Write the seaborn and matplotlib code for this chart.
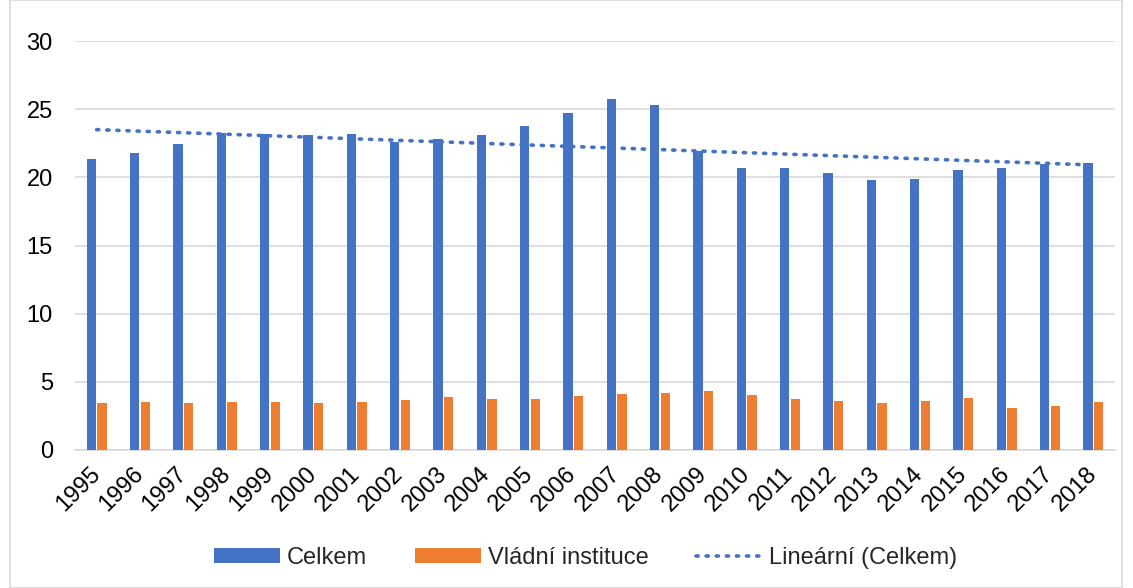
import numpy as np
import pandas as pd
import matplotlib
matplotlib.use("Agg")
import matplotlib.pyplot as plt
import seaborn as sns
from matplotlib.patches import Rectangle
from matplotlib.lines import Line2D
from matplotlib.patches import Patch

years = [str(y) for y in range(1995, 2019)]
celkem = [21.35, 21.78, 22.42, 23.27, 23.16, 23.10, 23.20, 22.57, 22.84, 23.13,
          23.74, 24.74, 25.72, 25.30, 21.95, 20.66, 20.66, 20.32, 19.80, 19.86,
          20.54, 20.66, 21.00, 21.07]
vladni = [3.45, 3.50, 3.47, 3.52, 3.50, 3.47, 3.50, 3.67, 3.89, 3.72,
          3.74, 3.97, 4.11, 4.19, 4.31, 4.06, 3.74, 3.57, 3.47, 3.62,
          3.84, 3.08, 3.20, 3.50]
series_names = ["Celkem", "Vládní instituce"]
trend_name = "Lineární (Celkem)"

BLUE = "#4472C4"
ORANGE = "#ED7D31"
FS = 17

sns.set_theme(style="white")
plt.rcParams["font.family"] = ["Liberation Sans", "DejaVu Sans"]

df = pd.DataFrame({
    "rok": years * 2,
    "hodnota": celkem + vladni,
    "ukazatel": [series_names[0]] * len(years) + [series_names[1]] * len(years),
})

fig = plt.figure(figsize=(11.33, 5.88), dpi=100)
ax = fig.add_axes([75 / 1133, 1 - 450 / 588, 1040 / 1133, 409 / 588])

sns.barplot(data=df, x="rok", y="hodnota", hue="ukazatel",
            palette=[BLUE, ORANGE], saturation=1, width=0.5, gap=0.15,
            edgecolor="none", ax=ax, legend=False, zorder=3)

# linear trend of the total
xs = np.arange(len(years))
k, q = np.polyfit(xs, celkem, 1)
ax.plot(xs, k * xs + q, color=BLUE, linewidth=2.6,
        linestyle=(0, (0.6, 2.2)), dash_capstyle="round", zorder=4)

ax.set_ylim(0, 30)
ax.set_yticks(range(0, 31, 5))
ax.set_xlim(-0.5, len(years) - 0.5)
ax.yaxis.grid(True, color="#d9d9d9", linewidth=1.2, zorder=0)
ax.set_axisbelow(True)
for s in ["top", "right", "left"]:
    ax.spines[s].set_visible(False)
ax.spines["bottom"].set_color("#d9d9d9")
ax.spines["bottom"].set_linewidth(1.2)
ax.set_xlabel("")
ax.set_ylabel("")
ax.tick_params(axis="y", length=0, labelsize=FS, pad=16, colors="black")
ax.tick_params(axis="x", length=0, labelsize=FS, pad=15, colors="black")
plt.setp(ax.get_xticklabels(), rotation=45, ha="right", va="center",
         rotation_mode="anchor")

handles = [
    Patch(facecolor=BLUE, edgecolor="none"),
    Patch(facecolor=ORANGE, edgecolor="none"),
    Line2D([0], [0], color=BLUE, linewidth=2.6, linestyle=(0, (0.6, 2.2)),
           dash_capstyle="round"),
]
fig.legend(handles, series_names + [trend_name], loc="center",
           bbox_to_anchor=(0.5 + 19 / 1133, 1 - 558 / 588), ncol=3,
           frameon=False, fontsize=FS, handlelength=2.8, handleheight=0.6,
           handletextpad=0.3, columnspacing=2.0)

fig.patches.append(Rectangle((10 / 1133, 0.0), 1 - 21 / 1133, 1.0,
                             transform=fig.transFigure, fill=False,
                             edgecolor="#d9d9d9", linewidth=1.2))

fig.savefig("out.png", dpi=100)
